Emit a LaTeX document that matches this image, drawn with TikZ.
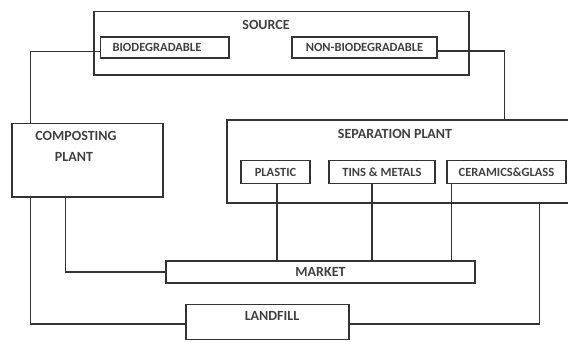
\documentclass[tikz,border=0pt]{standalone}
\usepackage{fontspec}
\setmainfont{Carlito}
\begin{document}
\begin{tikzpicture}[x=1pt,y=-1pt,
  box/.style={draw=black!80,line width=1.2pt,inner sep=0pt,minimum width=#1},
  lbl/.style={font=\bfseries\fontsize{12.5}{12.5}\selectfont,text=black!75,inner sep=0pt},
  hdr/.style={font=\bfseries\fontsize{14}{14}\selectfont,text=black!75,inner sep=0pt},
  wire/.style={draw=black!80,line width=1.2pt}]
\useasboundingbox[fill=white] (0,0) rectangle (568,341);
% boxes
\node[box=375pt,minimum height=63.3pt] (source) at (281.5,43.35) {};
\node[hdr] (sourcet) at (266,25) {SOURCE};
\node[box=128.3pt,minimum height=21pt] (bio) at (164.85,47.5) {};
\node[lbl] (biot) at (157,47.5) {BIODEGRADABLE};
\node[box=145pt,minimum height=21pt,lbl] (nonbio) at (364.5,47.5) {NON-BIODEGRADABLE};
\node[box=151pt,minimum height=73.5pt] (compost) at (87.5,160.25) {};
\node[hdr] (compt1) at (76,136) {COMPOSTING};
\node[hdr] (compt2) at (74,157) {PLANT};
\node[box=348pt,minimum height=83pt] (sep) at (401,161.5) {};
\node[hdr] (sept) at (395,134) {SEPARATION PLANT};
\node[box=69pt,minimum height=23pt,lbl] (plastic) at (275.5,172) {PLASTIC};
\node[box=106pt,minimum height=23pt,lbl] (tins) at (382,172) {TINS \& METALS};
\node[box=119pt,minimum height=23pt,lbl] (ceram) at (506.5,172) {CERAMICS\&GLASS};
\node[box=309pt,minimum height=22pt,hdr] (market) at (320.5,272) {MARKET};
\node[box=163pt,minimum height=35pt] (landfill) at (267.5,322) {};
\node[hdr] (landt) at (272,316) {LANDFILL};
% connectors
\draw[wire] ([yshift=-4.2pt]bio.west) -| ([xshift=19pt]compost.north west);
\draw[wire] ([yshift=-3.5pt]nonbio.east) -| ([xshift=278pt]sep.north west);
\draw[wire] ([xshift=19pt]compost.south west) |- ([yshift=-2pt]landfill.west);
\draw[wire] ([xshift=54pt]compost.south west) |- (market.west);
\draw[wire] ([xshift=1.5pt]plastic.south) -- ([xshift=1.5pt]plastic.south |- market.north);
\draw[wire] ([xshift=-10pt]tins.south) -- ([xshift=-10pt]tins.south |- market.north);
\draw[wire] ([xshift=5pt]ceram.south west) -- ([xshift=5pt]ceram.south west |- market.north);
\draw[wire] ([xshift=313pt]sep.south west) |- ([yshift=-2pt]landfill.east);
\end{tikzpicture}
\end{document}
